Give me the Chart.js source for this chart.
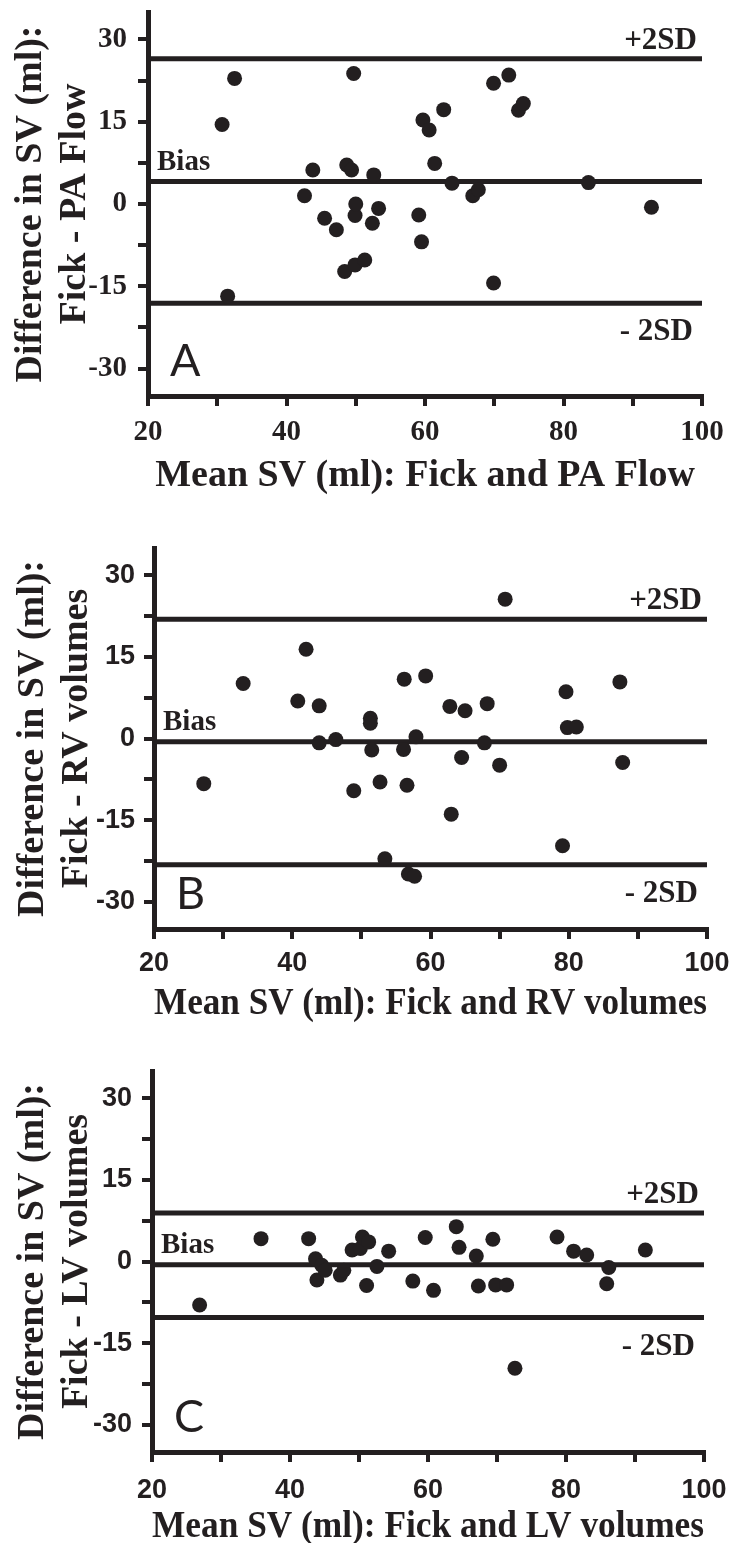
<!DOCTYPE html>
<html>
<head>
<meta charset="utf-8">
<script src="https://cdn.jsdelivr.net/npm/chart.js@4"></script>
<style>
  html, body { margin: 0; padding: 0; background: #fff; overflow: hidden; }
  body { width: 734px; height: 1543px; position: relative; }
  canvas { position: absolute; left: 0; }
</style>
</head>
<body>
<canvas id="panelA" width="734" height="500" style="top:0px"></canvas>
<canvas id="panelB" width="734" height="500" style="top:530px"></canvas>
<canvas id="panelC" width="734" height="500" style="top:1043px"></canvas>
<script>
// ticks shared by the three panels
const xTicks = [20, 30, 40, 50, 60, 70, 80, 90, 100];
const yTicks = [-30, -22.5, -15, -7.5, 0, 7.5, 15, 22.5, 30];
const letters = ['A', 'B', 'C'];
const limitNames = ['+2SD', 'Bias', '- 2SD'];

// A: Fick vs PA flow
const meanA = [30.7, 32.5, 31.5, 42.6, 43.8, 45.5, 47.2, 48.4, 48.7, 49.4, 49.7, 49.9, 49.9, 50.0, 51.3, 52.4, 52.6, 53.3, 59.1, 59.5, 59.7, 60.6, 61.4, 62.7, 63.9, 66.9, 67.7, 69.9, 69.9, 72.1, 73.5, 74.2, 83.6, 92.7];
const diffA = [14.5, 22.9, -16.8, 1.5, 6.2, -2.6, -4.7, -12.3, 7.1, 6.2, 23.8, -2.1, -11.1, 0.0, -10.2, -3.5, 5.3, -0.8, -2.0, -6.9, 15.3, 13.5, 7.4, 17.2, 3.8, 1.5, 2.6, 22.0, -14.4, 23.5, 17.1, 18.3, 3.9, -0.6];
const limitsA = [26.5, 4.1, -18.1]; // +2SD, bias, -2SD

// B: Fick vs RV volumes
const meanB = [27.2, 32.9, 40.8, 42.0, 43.9, 43.9, 46.3, 48.9, 51.3, 51.3, 51.5, 52.7, 53.4, 56.1, 56.2, 56.6, 56.8, 57.7, 57.9, 59.3, 62.8, 63.0, 64.5, 65.0, 67.8, 68.2, 70.0, 70.8, 79.1, 79.6, 79.8, 81.1, 87.4, 87.8];
const diffB = [-8.3, 10.1, 6.9, 16.4, 6.0, -0.8, -0.2, -9.6, 3.7, 2.8, -2.1, -8.0, -22.1, -2.0, 10.9, -8.6, -24.9, -25.3, 0.3, 11.5, 5.9, -13.9, -3.5, 5.1, -0.8, 6.4, -4.9, 25.6, -19.7, 8.6, 2.0, 2.1, 10.4, -4.4];
const limitsB = [21.9, -0.6, -23.2];

// C: Fick vs LV volumes
const meanC = [26.9, 35.8, 42.7, 43.7, 43.9, 44.6, 45.1, 47.3, 47.8, 49.0, 50.2, 50.5, 51.1, 51.4, 52.6, 54.3, 57.8, 59.6, 60.8, 64.1, 64.5, 67.0, 67.3, 69.4, 69.8, 71.4, 72.6, 78.7, 81.1, 83.0, 85.9, 86.2, 91.5];
const diffC = [-8.0, 4.2, 4.2, 0.5, -3.4, -0.7, -1.6, -2.5, -1.6, 2.1, 2.4, 4.5, -4.4, 3.6, -0.9, 1.9, -3.6, 4.4, -5.3, 6.4, 2.6, 1.0, -4.5, 4.1, -4.3, -4.3, -19.6, 4.5, 1.9, 1.2, -4.1, -1.1, 2.1];
const limitsC = [8.9, -0.6, -10.3];

const xTitles = ['Mean SV (ml): Fick and PA Flow', 'Mean SV (ml): Fick and RV volumes', 'Mean SV (ml): Fick and LV volumes'];
const yTitles = [
  ['Difference in SV (ml):', 'Fick - PA Flow'],
  ['Difference in SV (ml):', 'Fick - RV volumes'],
  ['Difference in SV (ml):', 'Fick - LV volumes']
];

const ink = '#231f20';
const serif = "'Liberation Serif', 'Times New Roman', serif";
const sans = "'Liberation Sans', Arial, sans-serif";

// layout of each panel inside its canvas (pixels)
const frames = [
  { id: 'panelA', left: 148, right: 702, top: 12, bottom: 396, yTitlePad: 10, xTitlePad: 2, tickFont: serif, tickSize: 29, yPad: 11, xPad: 9 },
  { id: 'panelB', left: 154, right: 707, top: 18, bottom: 399, yTitlePad: 12, xTitlePad: 4, tickFont: sans, tickSize: 27, yPad: 9, xPad: 8 },
  { id: 'panelC', left: 152, right: 704, top: 28, bottom: 409, yTitlePad: 12, xTitlePad: -6, tickFont: sans, tickSize: 27, yPad: 10, xPad: 12 }
];

const means = [meanA, meanB, meanC];
const diffs = [diffA, diffB, diffC];
const limits = [limitsA, limitsB, limitsC];

// text for the limit lines and the panel letter
const sdLabels = {
  id: 'sdLabels',
  afterDatasetsDraw(chart, args, opts) {
    const { ctx, chartArea: area, scales: { y } } = chart;
    const [up, bias, low] = opts.limits;
    ctx.save();
    ctx.fillStyle = ink;
    ctx.textBaseline = 'alphabetic';
    ctx.font = 'bold 31px ' + serif;
    ctx.textAlign = 'right';
    ctx.fillText(limitNames[0], area.right - 5, y.getPixelForValue(up) - 10);
    ctx.fillText(limitNames[2], area.right - 9, y.getPixelForValue(low) + 37);
    ctx.font = 'bold 29px ' + serif;
    ctx.textAlign = 'left';
    ctx.fillText(limitNames[1], area.left + 9, y.getPixelForValue(bias) - 12);
    ctx.font = "400 45px Lato, 'Liberation Sans', sans-serif";
    ctx.fillText(opts.letter, area.left + 22, area.bottom - 20);
    ctx.restore();
  }
};

frames.forEach((f, i) => {
  const canvas = document.getElementById(f.id);
  const H = canvas.height;
  const lineSet = v => ({
    type: 'line',
    data: [{ x: xTicks[0], y: v }, { x: xTicks[xTicks.length - 1], y: v }],
    borderColor: ink,
    borderWidth: 5,
    pointRadius: 0,
    order: 2
  });
  new Chart(canvas.getContext('2d'), {
    type: 'scatter',
    data: {
      datasets: [
        {
          data: means[i].map((m, k) => ({ x: m, y: diffs[i][k] })),
          backgroundColor: ink,
          borderWidth: 0,
          pointRadius: 7.5,
          order: 1
        },
        lineSet(limits[i][0]),
        lineSet(limits[i][1]),
        lineSet(limits[i][2])
      ]
    },
    options: {
      responsive: false,
      animation: false,
      events: [],
      layout: { padding: { left: 0, top: f.top, right: canvas.width - f.right, bottom: 0 } },
      plugins: {
        legend: { display: false },
        tooltip: { enabled: false },
        sdLabels: { limits: limits[i], letter: letters[i] }
      },
      scales: {
        x: {
          type: 'linear',
          min: 20,
          max: 100,
          afterBuildTicks: s => { s.ticks = xTicks.map(v => ({ value: v })); },
          afterFit: s => { s.height = H - f.bottom; s.paddingLeft = 0; s.paddingRight = 0; },
          ticks: {
            autoSkip: false,
            maxRotation: 0,
            padding: f.xPad,
            color: ink,
            font: { family: f.tickFont, size: f.tickSize, weight: 'bold' },
            callback: v => (v % 20 === 0 ? v : '')
          },
          grid: { drawOnChartArea: false, drawTicks: true, tickLength: 10, lineWidth: 4, color: ink },
          border: { display: true, width: 5, color: ink },
          title: {
            display: true,
            text: xTitles[i],
            color: ink,
            font: { family: serif, size: 38, weight: 'bold', lineHeight: 1.14 },
            padding: { top: 0, bottom: f.xTitlePad }
          }
        },
        y: {
          type: 'linear',
          min: -35,
          max: 35,
          afterBuildTicks: s => { s.ticks = yTicks.map(v => ({ value: v })); },
          afterFit: s => { s.width = f.left; s.paddingTop = 0; s.paddingBottom = 0; },
          ticks: {
            autoSkip: false,
            padding: f.yPad,
            color: ink,
            font: { family: f.tickFont, size: f.tickSize, weight: 'bold' },
            callback: v => (v % 15 === 0 ? v : '')
          },
          grid: { drawOnChartArea: false, drawTicks: true, tickLength: 10, lineWidth: 4, color: ink },
          border: { display: true, width: 5, color: ink },
          title: {
            display: true,
            text: yTitles[i],
            color: ink,
            font: { family: serif, size: 38, weight: 'bold', lineHeight: 1.14 },
            padding: { top: f.yTitlePad, bottom: 0 }
          }
        }
      }
    },
    plugins: [sdLabels]
  });
});
</script>
</body>
</html>
